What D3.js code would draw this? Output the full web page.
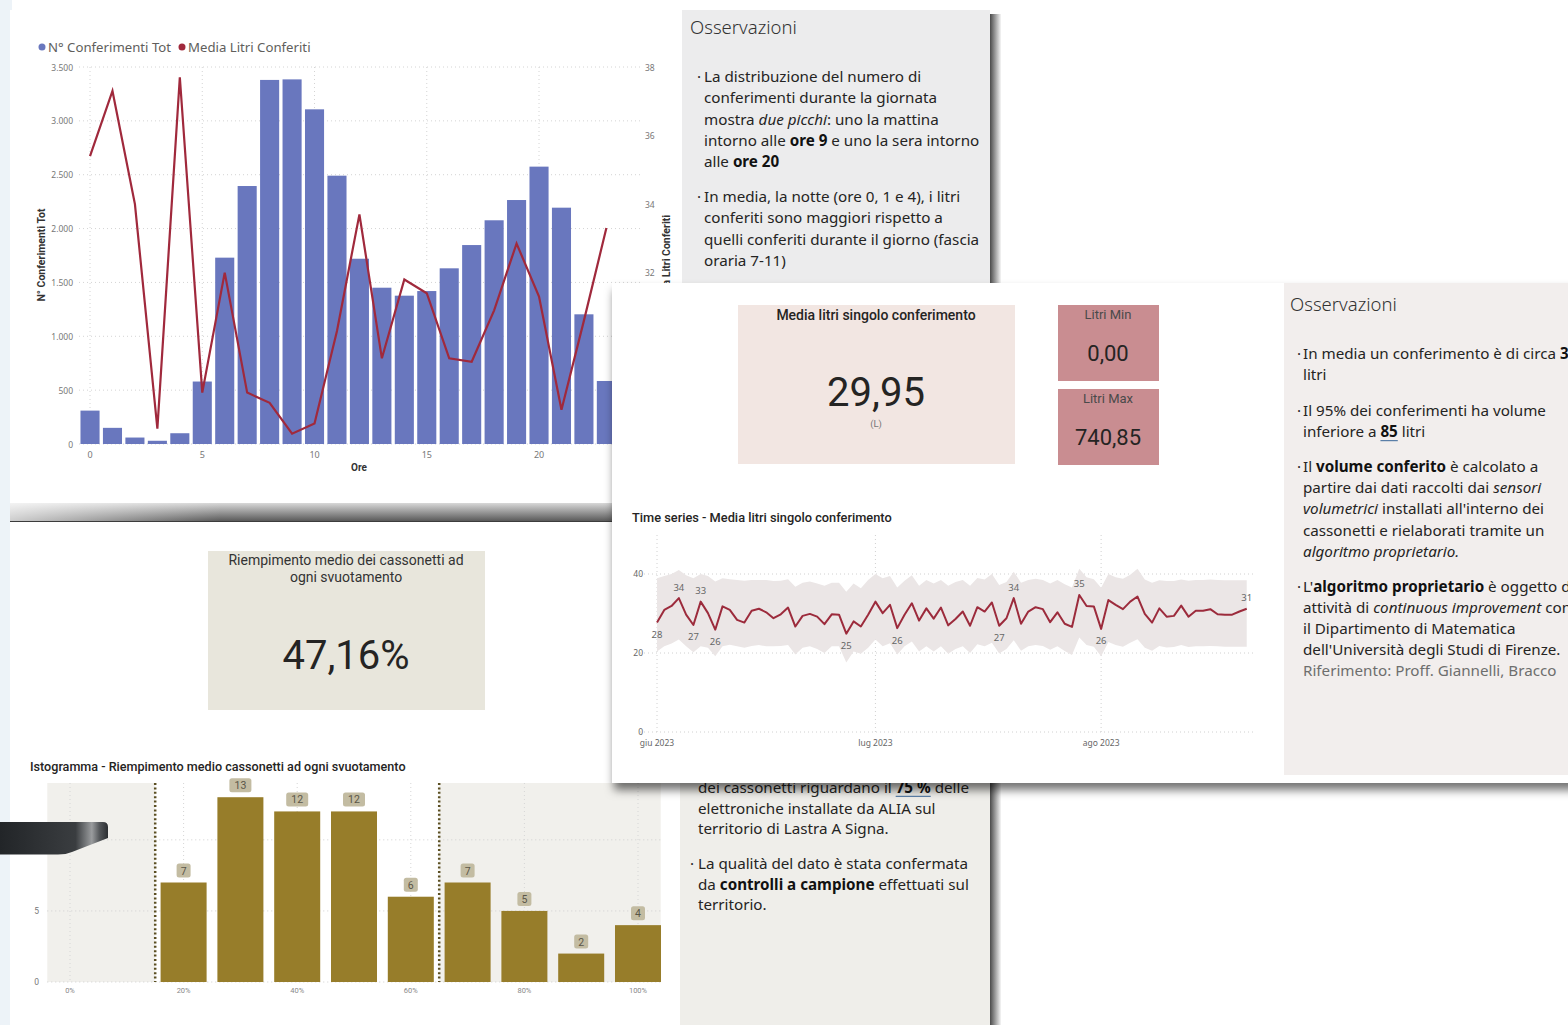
<!DOCTYPE html>
<html>
<head>
<meta charset="utf-8">
<script src="https://cdn.jsdelivr.net/npm/d3@7"></script>
<style>
  body { margin: 0; background: #fff; overflow: hidden; }
</style>
</head>
<body>
<div id="dash"></div>
<script>
// ---- data ----
var hours = [0,1,2,3,4,5,6,7,8,9,10,11,12,13,14,15,16,17,18,19,20,21,22,23];
var conferimenti = [310,150,60,30,100,580,1730,2395,3380,3385,3107,2491,1720,1451,1377,1420,1631,1847,2077,2265,2575,2194,1204,585];
var mediaLitri = [35.4,37.3,34.0,27.45,37.7,28.5,32.0,28.5,28.2,27.3,27.6,30.3,33.7,29.5,31.8,31.4,29.5,29.4,30.9,32.85,31.3,28.0,30.6,33.3];
var hourTicks = [0,5,10,15,20];
var leftTicks = [0,500,1000,1500,2000,2500,3000,3500];
var rightTicks = [28,30,32,34,36,38];

// daily series from 1 June 2023
var tsStart = new Date(2023, 5, 1);
var tsValues = [27.7,30.9,31.9,33.9,29.7,27.1,33.0,30.1,25.9,31.8,
                30.9,28.4,27.7,30.7,31.2,30.3,28.8,29.8,31.5,26.7,
                29.4,29.9,29.2,27.3,29.8,29.7,24.9,28.0,26.7,29.7,
                33.0,30.1,32.2,26.3,29.7,32.6,28.2,31.3,28.7,31.5,
                27.0,28.6,30.5,26.9,31.6,30.5,32.8,26.9,28.8,33.9,
                27.4,30.5,31.6,31.1,27.8,30.3,27.4,26.6,34.7,31.9,
                31.8,26.1,33.4,32.2,31.1,33.0,34.3,29.9,27.7,31.3,
                29.2,29.4,32.0,29.2,30.7,30.7,31.1,29.8,29.7,29.7,
                30.5,31.2];
var tsUpper = [38.9,39.5,40.0,41.0,39.7,38.9,40.0,39.5,38.1,38.9,
               38.7,38.5,38.3,38.5,38.5,38.5,38.2,38.3,38.7,36.8,
               37.8,38.1,37.6,37.0,37.8,37.8,35.5,37.6,36.4,38.5,
               40.0,38.9,39.5,36.6,38.3,39.7,37.0,38.5,37.6,38.5,
               37.0,38.0,38.5,37.0,39.0,38.6,40.0,37.2,38.0,40.6,
               37.8,38.5,38.8,38.5,37.6,38.5,37.4,36.6,41.3,39.2,
               38.7,36.5,40.0,39.2,38.8,39.8,41.3,38.6,37.8,38.4,
               38.2,38.2,38.6,38.3,38.5,38.5,38.6,38.5,38.4,38.4,
               38.4,38.4];
var tsLower = [20.4,21.7,22.4,23.4,21.7,20.2,21.7,21.3,19.2,21.7,
               22.1,21.7,21.3,21.8,22.0,21.7,21.7,21.8,22.0,19.6,
               21.3,21.7,21.0,20.0,21.7,21.7,17.6,20.4,19.8,21.3,
               23.4,21.7,22.5,19.6,21.7,22.9,20.4,21.7,20.4,21.7,
               19.8,21.0,21.7,20.0,22.2,21.7,22.6,19.9,21.0,23.2,
               20.6,21.7,22.0,21.8,20.8,21.7,20.5,19.5,23.9,22.0,
               21.6,19.2,22.8,22.0,21.6,22.6,23.5,21.3,20.6,21.8,
               21.4,21.5,22.0,21.5,21.7,21.7,21.8,21.7,21.6,21.6,
               21.6,21.6];
var tsLabelIdx = [0,3,5,6,8,26,33,47,49,58,61,81];
var tsLabelPos = ['below','above','below','above','below','below','below','below','above','above','below','above'];
var tsTicks = [0,20,40];
var tsMonths = [new Date(2023,5,1), new Date(2023,6,1), new Date(2023,7,1)];
var tsMonthLabels = ['giu 2023','lug 2023','ago 2023'];

var histBins = [20,30,40,50,60,70,80,90,100];
var histCounts = [7,13,12,12,6,7,5,2,4];
var histXTicks = [0,20,40,60,80,100];
var histYTicks = [0,5,10];
var histLow = 15, histHigh = 65;

var kpiMedia = '29,95', kpiMin = '0,00', kpiMax = '740,85', kpiRiemp = '47,16%';

var bodyFont = "'Segoe UI','Noto Sans','Open Sans',sans-serif";
var dinFont = "'Roboto',sans-serif";
var bodySize = 15.2;

var it = d3.formatLocale({decimal: ',', thousands: '.', grouping: [3], currency: ['', '€']});
var fmtK = it.format(',');

var svg = d3.select('#dash').append('svg')
    .attr('width', 1568)
    .attr('height', 1025);

//defs
var defs = svg.append('defs');
var gR = defs.append('linearGradient').attr('id', 'shadowR').attr('x1', 0).attr('x2', 1).attr('y1', 0).attr('y2', 0);
gR.append('stop').attr('offset', '0%').attr('stop-color', '#4a4a4a');
gR.append('stop').attr('offset', '100%').attr('stop-color', '#4a4a4a').attr('stop-opacity', 0.05);
var gB = defs.append('linearGradient').attr('id', 'shadowB').attr('x1', 0).attr('x2', 0).attr('y1', 0).attr('y2', 1);
gB.append('stop').attr('offset', '0%').attr('stop-color', '#d8d8d8');
gB.append('stop').attr('offset', '100%').attr('stop-color', '#5a5a5a');
var gB2 = defs.append('linearGradient').attr('id', 'shadowBx').attr('x1', 0).attr('x2', 1).attr('y1', 0).attr('y2', 0);
gB2.append('stop').attr('offset', '0%').attr('stop-color', '#fff').attr('stop-opacity', 0.7);
gB2.append('stop').attr('offset', '35%').attr('stop-color', '#fff').attr('stop-opacity', 0.0);
var gDev = defs.append('linearGradient').attr('id', 'device').attr('x1', 0).attr('x2', 1).attr('y1', 0).attr('y2', 0);
gDev.append('stop').attr('offset', '0%').attr('stop-color', '#222528');
gDev.append('stop').attr('offset', '70%').attr('stop-color', '#3a3d40');
gDev.append('stop').attr('offset', '85%').attr('stop-color', '#9a9c9e');
gDev.append('stop').attr('offset', '92%').attr('stop-color', '#55585b');
gDev.append('stop').attr('offset', '100%').attr('stop-color', '#2c2f32');
var drop = defs.append('filter').attr('id', 'drop').attr('x', '-5%').attr('y', '-5%').attr('width', '115%').attr('height', '120%');
drop.append('feDropShadow').attr('dx', 2).attr('dy', 7).attr('stdDeviation', 5)
    .attr('flood-color', '#000').attr('flood-opacity', 0.55);
//defs

// pale backdrop strip on the left
svg.append('rect').attr('x', 0).attr('y', 0).attr('width', 12).attr('height', 1025).attr('fill', '#edf3f8');

// helper for rich text lines
function richBlock(g, bulletX, textX, y0, lh, lines, size, color, bullet) {
    lines.forEach(function(ln, i) {
        var y = y0 + i * lh;
        if (i == 0 && bullet) {
            g.append('text').text('·')
                .attr('x', bulletX).attr('y', y)
                .attr('dominant-baseline', 'central')
                .attr('font-family', bodyFont).attr('font-size', size).attr('fill', color);
        }
        var t = g.append('text')
            .attr('x', textX).attr('y', y)
            .attr('dominant-baseline', 'central')
            .attr('font-family', bodyFont).attr('font-size', size).attr('fill', color);
        var under = [];
        ln.forEach(function(s) {
            var ts = t.append('tspan').text(s[0]);
            var st = s[1] || '';
            if (st.indexOf('b') >= 0) ts.attr('font-weight', 'bold').attr('fill', '#111');
            if (st.indexOf('i') >= 0) ts.attr('font-style', 'italic');
            if (st.indexOf('g') >= 0) ts.attr('fill', '#6e6e6e');
            if (st.indexOf('u') >= 0) under.push(ts);
        });
        under.forEach(function(ts) {
            var n = ts.node();
            var sx = n.getStartPositionOfChar(0).x;
            var w = n.getComputedTextLength();
            g.append('line').attr('x1', sx).attr('x2', sx + w)
                .attr('y1', y + size * 0.62).attr('y2', y + size * 0.62)
                .attr('stroke', '#5b7fa8').attr('stroke-width', 1.2);
        });
    });
}

// =============== bottom-left panel (histogram) ===============
var p2 = svg.append('g').attr('class', 'panel2');
p2.append('rect').attr('x', 10).attr('y', 522).attr('width', 980).attr('height', 503).attr('fill', '#fff');
p2.append('rect').attr('x', 680).attr('y', 522).attr('width', 310).attr('height', 503).attr('fill', '#efeeea');
p2.append('rect').attr('x', 990).attr('y', 770).attr('width', 11).attr('height', 255).attr('fill', 'url(#shadowR)');

// kpi card
p2.append('rect').attr('x', 208).attr('y', 551).attr('width', 277).attr('height', 159).attr('fill', '#e8e6dc');
p2.append('text').text('Riempimento medio dei cassonetti ad')
    .attr('x', 346).attr('y', 560).attr('text-anchor', 'middle').attr('dominant-baseline', 'central')
    .attr('font-family', dinFont).attr('font-size', 14).attr('fill', '#333');
p2.append('text').text('ogni svuotamento')
    .attr('x', 346).attr('y', 577).attr('text-anchor', 'middle').attr('dominant-baseline', 'central')
    .attr('font-family', dinFont).attr('font-size', 14).attr('fill', '#333');
p2.append('text').text(kpiRiemp)
    .attr('x', 346).attr('y', 655).attr('text-anchor', 'middle').attr('dominant-baseline', 'central')
    .attr('font-family', dinFont).attr('font-size', 40).attr('fill', '#252423');

// histogram
var xH = d3.scaleLinear().domain([0, 100]).range([70, 638]);
var yH = d3.scaleLinear().domain([0, 14]).range([982, 783]);
var barW = (xH(10) - xH(0)) * 0.81;

p2.append('text').text('Istogramma - Riempimento medio cassonetti ad ogni svuotamento')
    .attr('x', 30).attr('y', 766).attr('dominant-baseline', 'central')
    .attr('font-family', dinFont).attr('font-size', 12.6).attr('font-weight', 500).attr('fill', '#252423');

p2.append('rect').attr('x', xH(-4)).attr('y', yH(14)).attr('width', xH(histLow) - xH(-4)).attr('height', yH(0) - yH(14)).attr('fill', '#f1f0ec');
p2.append('rect').attr('x', xH(histHigh)).attr('y', yH(14)).attr('width', xH(104) - xH(histHigh)).attr('height', yH(0) - yH(14)).attr('fill', '#f1f0ec');

p2.selectAll('.hgridy').data(histYTicks).enter().append('line')
    .attr('x1', xH(-4)).attr('x2', xH(104))
    .attr('y1', function(d) { return yH(d); }).attr('y2', function(d) { return yH(d); })
    .attr('stroke', '#cfcfcf').attr('stroke-dasharray', '1,3');
p2.selectAll('.hgridx').data(histXTicks).enter().append('line')
    .attr('x1', function(d) { return xH(d); }).attr('x2', function(d) { return xH(d); })
    .attr('y1', yH(14)).attr('y2', yH(0))
    .attr('stroke', '#d6d6d6').attr('stroke-dasharray', '1,3');

p2.selectAll('.hbar').data(histBins).enter().append('rect')
    .attr('x', function(d) { return xH(d) - barW / 2; })
    .attr('y', function(d, i) { return yH(histCounts[i]); })
    .attr('width', barW)
    .attr('height', function(d, i) { return yH(0) - yH(histCounts[i]); })
    .attr('fill', '#977d2a');

[histLow, histHigh].forEach(function(v) {
    p2.append('line').attr('x1', xH(v)).attr('x2', xH(v)).attr('y1', yH(14)).attr('y2', yH(0))
        .attr('stroke', '#5b4f22').attr('stroke-width', 2.5).attr('stroke-dasharray', '2,2.4');
});

histBins.forEach(function(d, i) {
    var lab = String(histCounts[i]);
    var w = lab.length == 1 ? 14 : 22;
    var cy = yH(histCounts[i]) - 12;
    p2.append('rect').attr('x', xH(d) - w / 2).attr('y', cy - 7).attr('width', w).attr('height', 14).attr('rx', 2.5)
        .attr('fill', '#c3bca2');
    p2.append('text').text(lab).attr('x', xH(d)).attr('y', cy + 0.5)
        .attr('text-anchor', 'middle').attr('dominant-baseline', 'central')
        .attr('font-family', dinFont).attr('font-size', 10.5).attr('fill', '#5a5648');
});

p2.selectAll('.hxl').data(histXTicks).enter().append('text')
    .text(function(d) { return d + '%'; })
    .attr('x', function(d) { return xH(d); }).attr('y', 990)
    .attr('text-anchor', 'middle').attr('dominant-baseline', 'central')
    .attr('font-family', dinFont).attr('font-size', 7.5).attr('fill', '#888');
p2.selectAll('.hyl').data([0, 5]).enter().append('text')
    .text(function(d) { return d; })
    .attr('x', 39).attr('y', function(d) { return yH(d); })
    .attr('text-anchor', 'end').attr('dominant-baseline', 'central')
    .attr('font-family', dinFont).attr('font-size', 8.5).attr('fill', '#777');

// bottom observations
richBlock(p2, 690, 698, 787, 20.7, [
    [['dei cassonetti riguardano il '], ['75 %', 'bu'], [' delle']],
    [['elettroniche installate da ALIA sul']],
    [['territorio di Lastra A Signa.']]
], bodySize, '#252423', false);
richBlock(p2, 690, 698, 863, 20.7, [
    [['La qualità del dato è stata confermata']],
    [['da '], ['controlli a campione', 'b'], [' effettuati sul']],
    [['territorio.']]
], bodySize, '#252423', true);

// odd dark device edge at the far left
svg.append('path')
    .attr('d', 'M0,822 L103,822 Q108,822 108,827 L108,838 L72,852 Q66,854.5 58,854.5 L0,854.5 Z')
    .attr('fill', 'url(#device)');

// =============== top-left panel (hourly chart) ===============
var p1 = svg.append('g').attr('class', 'panel1');
p1.append('rect').attr('x', 10).attr('y', 10).attr('width', 980).attr('height', 493).attr('fill', '#fff');
p1.append('rect').attr('x', 682).attr('y', 10).attr('width', 308).attr('height', 493).attr('fill', '#ececed');
p1.append('rect').attr('x', 990).attr('y', 14).attr('width', 11).attr('height', 275).attr('fill', 'url(#shadowR)');
p1.append('rect').attr('x', 10).attr('y', 503).attr('width', 602).attr('height', 18).attr('fill', 'url(#shadowB)');
p1.append('rect').attr('x', 10).attr('y', 503).attr('width', 602).attr('height', 18).attr('fill', 'url(#shadowBx)');
p1.append('line').attr('x1', 10).attr('x2', 612).attr('y1', 521.5).attr('y2', 521.5).attr('stroke', '#3c3c3c');

var xHour = d3.scaleBand().domain(hours).range([78.8, 617.6]).paddingInner(0.15).paddingOuter(0.075);
var yL = d3.scaleLinear().domain([0, 3500]).range([444, 67]);
var yR = d3.scaleLinear().domain([27, 38]).range([444, 67]);
var cx = function(h) { return xHour(h) + xHour.bandwidth() / 2; };

//gridlines
p1.selectAll('.gy').data(leftTicks).enter().append('line')
    .attr('x1', 79).attr('x2', 640)
    .attr('y1', function(d) { return yL(d); }).attr('y2', function(d) { return yL(d); })
    .attr('stroke', '#d4d4d4').attr('stroke-dasharray', '1,3');
p1.selectAll('.gx').data(hourTicks).enter().append('line')
    .attr('x1', function(d) { return cx(d); }).attr('x2', function(d) { return cx(d); })
    .attr('y1', 67).attr('y2', 444)
    .attr('stroke', '#d4d4d4').attr('stroke-dasharray', '1,3');
//gridlines

p1.selectAll('.bar').data(hours).enter().append('rect')
    .attr('x', function(d) { return xHour(d); })
    .attr('y', function(d, i) { return yL(conferimenti[i]); })
    .attr('width', xHour.bandwidth())
    .attr('height', function(d, i) { return yL(0) - yL(conferimenti[i]); })
    .attr('fill', '#6977be');

var hourLine = d3.line()
    .x(function(d, i) { return cx(hours[i]); })
    .y(function(d) { return yR(d); });
p1.append('path').datum(mediaLitri)
    .attr('d', hourLine)
    .attr('fill', 'none').attr('stroke', '#a0293c').attr('stroke-width', 2.2).attr('stroke-linejoin', 'miter');

//axes labels
p1.selectAll('.yl').data(leftTicks).enter().append('text')
    .text(function(d) { return fmtK(d); })
    .attr('x', 73).attr('y', function(d) { return yL(d); })
    .attr('text-anchor', 'end').attr('dominant-baseline', 'central')
    .attr('font-family', bodyFont).attr('font-size', 8.5).attr('fill', '#777');
p1.selectAll('.yr').data(rightTicks).enter().append('text')
    .text(function(d) { return d; })
    .attr('x', 645).attr('y', function(d) { return yR(d); })
    .attr('dominant-baseline', 'central')
    .attr('font-family', bodyFont).attr('font-size', 8.5).attr('fill', '#777');
p1.selectAll('.xl').data(hourTicks).enter().append('text')
    .text(function(d) { return d; })
    .attr('x', function(d) { return cx(d); }).attr('y', 454)
    .attr('text-anchor', 'middle').attr('dominant-baseline', 'central')
    .attr('font-family', bodyFont).attr('font-size', 9).attr('fill', '#777');

p1.append('text').text('Ore')
    .attr('x', 359).attr('y', 467).attr('text-anchor', 'middle').attr('dominant-baseline', 'central')
    .attr('font-family', dinFont).attr('font-size', 10).attr('font-weight', 'bold').attr('fill', '#333');
p1.append('text').text('N° Conferimenti Tot')
    .attr('text-anchor', 'middle').attr('dominant-baseline', 'central')
    .attr('font-family', dinFont).attr('font-size', 10.5).attr('font-weight', 'bold').attr('fill', '#333')
    .attr('transform', 'translate(41,255) rotate(-90)');
p1.append('text').text('Media Litri Conferiti')
    .attr('text-anchor', 'middle').attr('dominant-baseline', 'central')
    .attr('font-family', dinFont).attr('font-size', 10.5).attr('font-weight', 'bold').attr('fill', '#333')
    .attr('transform', 'translate(666,262) rotate(-90)');

//legend
var leg = p1.append('g').attr('class', 'legend');
leg.append('circle').attr('cx', 42).attr('cy', 47).attr('r', 3.5).attr('fill', '#6977be');
leg.append('text').text('N° Conferimenti Tot').attr('x', 48).attr('y', 47).attr('dominant-baseline', 'central')
    .attr('font-family', bodyFont).attr('font-size', 13.2).attr('fill', '#605e5c');
leg.append('circle').attr('cx', 182).attr('cy', 47).attr('r', 3.5).attr('fill', '#a0293c');
leg.append('text').text('Media Litri Conferiti').attr('x', 188).attr('y', 47).attr('dominant-baseline', 'central')
    .attr('font-family', bodyFont).attr('font-size', 13.2).attr('fill', '#605e5c');
//legend

// top observations
p1.append('text').text('Osservazioni')
    .attr('x', 690).attr('y', 26).attr('dominant-baseline', 'central')
    .attr('font-family', bodyFont).attr('font-size', 18.5).attr('font-weight', 300).attr('fill', '#333');
richBlock(p1, 697, 704, 76, 21.3, [
    [['La distribuzione del numero di']],
    [['conferimenti durante la giornata']],
    [['mostra '], ['due picchi', 'i'], [': uno la mattina']],
    [['intorno alle '], ['ore 9', 'b'], [' e uno la sera intorno']],
    [['alle '], ['ore 20', 'b']]
], bodySize, '#252423', true);
richBlock(p1, 697, 704, 196, 21.3, [
    [['In media, la notte (ore 0, 1 e 4), i litri']],
    [['conferiti sono maggiori rispetto a']],
    [['quelli conferiti durante il giorno (fascia']],
    [['oraria 7-11)']]
], bodySize, '#252423', true);

// =============== middle panel (litri) ===============
var p3 = svg.append('g').attr('class', 'panel3');
p3.append('rect').attr('x', 612).attr('y', 283).attr('width', 970).attr('height', 500).attr('fill', '#fff')
    .attr('filter', 'url(#drop)');
p3.append('rect').attr('x', 1284).attr('y', 283).attr('width', 284).attr('height', 492).attr('fill', '#f2eeed');

// kpi cards
p3.append('rect').attr('x', 738).attr('y', 305).attr('width', 277).attr('height', 159).attr('fill', '#f2e6e2');
p3.append('text').text('Media litri singolo conferimento')
    .attr('x', 876).attr('y', 315).attr('text-anchor', 'middle').attr('dominant-baseline', 'central')
    .attr('font-family', dinFont).attr('font-size', 14).attr('font-weight', 500).attr('fill', '#252423');
p3.append('text').text(kpiMedia)
    .attr('x', 876).attr('y', 392).attr('text-anchor', 'middle').attr('dominant-baseline', 'central')
    .attr('font-family', dinFont).attr('font-size', 40).attr('fill', '#252423');
p3.append('text').text('(L)')
    .attr('x', 876).attr('y', 423).attr('text-anchor', 'middle').attr('dominant-baseline', 'central')
    .attr('font-family', dinFont).attr('font-size', 9.5).attr('fill', '#777');

[[305, 'Litri Min', kpiMin], [389, 'Litri Max', kpiMax]].forEach(function(k) {
    p3.append('rect').attr('x', 1058).attr('y', k[0]).attr('width', 101).attr('height', 76).attr('fill', '#c98d91');
    p3.append('text').text(k[1])
        .attr('x', 1108).attr('y', k[0] + 9).attr('text-anchor', 'middle').attr('dominant-baseline', 'central')
        .attr('font-family', dinFont).attr('font-size', 13).attr('fill', '#4a4a4a');
    p3.append('text').text(k[2])
        .attr('x', 1108).attr('y', k[0] + 48).attr('text-anchor', 'middle').attr('dominant-baseline', 'central')
        .attr('font-family', dinFont).attr('font-size', 22).attr('fill', '#252423');
});

// time series
var tsData = tsValues.map(function(v, i) {
    return {date: d3.timeDay.offset(tsStart, i), v: v, hi: tsUpper[i], lo: tsLower[i]};
});
var xT = d3.scaleTime().domain([tsStart, new Date(2023, 7, 22)]).range([657, 1254]);
var yT = d3.scaleLinear().domain([0, 40]).range([732, 574]);

p3.append('text').text('Time series - Media litri singolo conferimento')
    .attr('x', 632).attr('y', 517).attr('dominant-baseline', 'central')
    .attr('font-family', dinFont).attr('font-size', 12.8).attr('font-weight', 500).attr('fill', '#252423');

p3.selectAll('.tgy').data(tsTicks).enter().append('line')
    .attr('x1', 640).attr('x2', 1254)
    .attr('y1', function(d) { return yT(d); }).attr('y2', function(d) { return yT(d); })
    .attr('stroke', '#d0d0d0').attr('stroke-dasharray', '1,3');
p3.selectAll('.tgx').data(tsMonths).enter().append('line')
    .attr('x1', function(d) { return xT(d); }).attr('x2', function(d) { return xT(d); })
    .attr('y1', 535).attr('y2', 732)
    .attr('stroke', '#d0d0d0').attr('stroke-dasharray', '1,3');

var band = d3.area()
    .x(function(d) { return xT(d.date); })
    .y0(function(d) { return yT(d.lo); })
    .y1(function(d) { return yT(d.hi); });
p3.append('path').datum(tsData).attr('d', band).attr('fill', '#ebe6e6');

var tsLine = d3.line()
    .x(function(d) { return xT(d.date); })
    .y(function(d) { return yT(d.v); });
p3.append('path').datum(tsData).attr('d', tsLine)
    .attr('fill', 'none').attr('stroke', '#9c2b3c').attr('stroke-width', 2).attr('stroke-linejoin', 'round');

tsLabelIdx.forEach(function(idx, j) {
    var d = tsData[idx];
    p3.append('text').text(Math.round(d.v))
        .attr('x', xT(d.date)).attr('y', yT(d.v) + (tsLabelPos[j] == 'above' ? -11 : 12))
        .attr('text-anchor', 'middle').attr('dominant-baseline', 'central')
        .attr('font-family', bodyFont).attr('font-size', 9.5).attr('fill', '#666');
});

p3.selectAll('.tyl').data(tsTicks).enter().append('text')
    .text(function(d) { return d; })
    .attr('x', 643).attr('y', function(d) { return yT(d) - 1; })
    .attr('text-anchor', 'end').attr('dominant-baseline', 'central')
    .attr('font-family', bodyFont).attr('font-size', 8.5).attr('fill', '#666');
p3.selectAll('.txl').data(tsMonths).enter().append('text')
    .text(function(d, i) { return tsMonthLabels[i]; })
    .attr('x', function(d) { return xT(d); }).attr('y', 742)
    .attr('text-anchor', 'middle').attr('dominant-baseline', 'central')
    .attr('font-family', bodyFont).attr('font-size', 8.5).attr('fill', '#666');

// right observations
p3.append('text').text('Osservazioni')
    .attr('x', 1290).attr('y', 303).attr('dominant-baseline', 'central')
    .attr('font-family', bodyFont).attr('font-size', 18.5).attr('font-weight', 300).attr('fill', '#333');
richBlock(p3, 1297, 1303, 353, 21.2, [
    [['In media un conferimento è di circa '], ['30', 'b']],
    [['litri']]
], bodySize, '#252423', true);
richBlock(p3, 1297, 1303, 410, 21.2, [
    [['Il 95% dei conferimenti ha volume']],
    [['inferiore a '], ['85', 'bu'], [' litri']]
], bodySize, '#252423', true);
richBlock(p3, 1297, 1303, 466, 21.2, [
    [['Il '], ['volume conferito', 'b'], [' è calcolato a']],
    [['partire dai dati raccolti dai '], ['sensori', 'i']],
    [['volumetrici', 'i'], [' installati all\'interno dei']],
    [['cassonetti e rielaborati tramite un']],
    [['algoritmo proprietario.', 'i']]
], bodySize, '#252423', true);
richBlock(p3, 1297, 1303, 586, 21, [
    [['L\''], ['algoritmo proprietario', 'b'], [' è oggetto di']],
    [['attività di '], ['continuous improvement', 'i'], [' con']],
    [['il Dipartimento di Matematica']],
    [['dell\'Università degli Studi di Firenze.']],
    [['Riferimento: Proff. Giannelli, Bracco', 'g']]
], bodySize, '#252423', true);
</script>
</body>
</html>
